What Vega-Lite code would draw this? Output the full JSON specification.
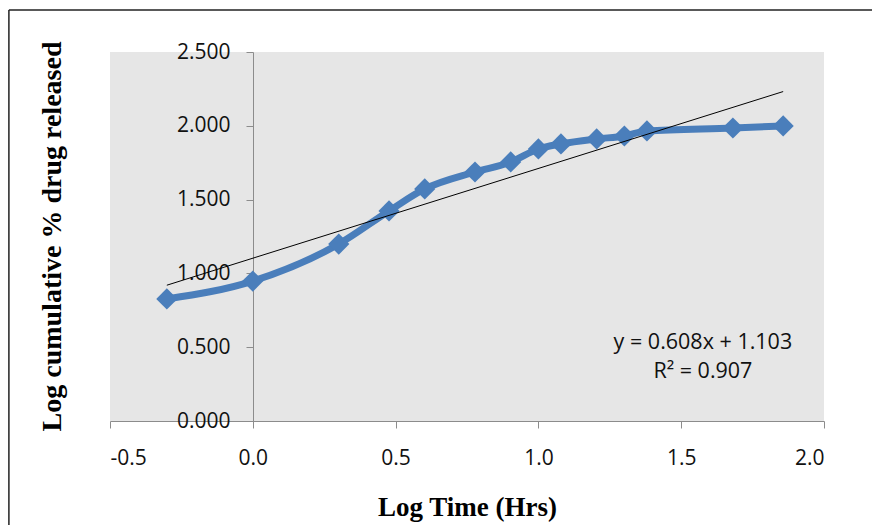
{
  "$schema": "https://vega.github.io/schema/vega-lite/v6.json",
  "width": 714,
  "height": 369,
  "autosize": "none",
  "padding": {"left": 110, "top": 52, "right": 48, "bottom": 104},
  "background": "white",
  "config": {
    "view": {"fill": "#e6e6e6", "stroke": null},
    "font": "Open Sans"
  },
  "datasets": {
    "release": [
      {"logt": -0.301, "logrel": 0.827},
      {"logt": 0.0, "logrel": 0.948},
      {"logt": 0.301, "logrel": 1.199},
      {"logt": 0.477, "logrel": 1.423},
      {"logt": 0.602, "logrel": 1.572},
      {"logt": 0.778, "logrel": 1.687},
      {"logt": 0.903, "logrel": 1.755},
      {"logt": 1.0, "logrel": 1.843},
      {"logt": 1.079, "logrel": 1.877},
      {"logt": 1.204, "logrel": 1.911},
      {"logt": 1.301, "logrel": 1.931},
      {"logt": 1.38, "logrel": 1.965},
      {"logt": 1.681, "logrel": 1.985},
      {"logt": 1.857, "logrel": 1.999}
    ],
    "trend": [
      {"logt": -0.301, "logrel": 0.92},
      {"logt": 1.857, "logrel": 2.232}
    ],
    "labels": [
      {"logt": 1.576, "logrel": 0.528, "text": "y = 0.608x + 1.103"},
      {"logt": 1.576, "logrel": 0.332, "text": "R² = 0.907"}
    ]
  },
  "layer": [
    {
      "data": {"name": "release"},
      "mark": {"type": "line", "color": "#4a7ebb", "strokeWidth": 7, "interpolate": "monotone"},
      "encoding": {
        "x": {
          "field": "logt", "type": "quantitative",
          "scale": {"domain": [-0.5, 2.0], "nice": false, "zero": false},
          "axis": {
            "title": "Log Time (Hrs)",
            "values": [-0.5, 0, 0.5, 1.0, 1.5, 2.0],
            "labelExpr": "replace(format(datum.value, '.1f'), '\u2212', '-')",
            "grid": false,
            "domainColor": "#8c8c8c",
            "tickColor": "#8c8c8c",
            "tickSize": 7,
            "labelFont": "Open Sans",
            "labelFontSize": 21,
            "labelColor": "#111111",
            "labelPadding": 19,
            "titleFont": "Liberation Serif",
            "titleFontWeight": "bold",
            "titleFontSize": 27,
            "titleColor": "#000000",
            "titlePadding": 26
          }
        },
        "y": {
          "field": "logrel", "type": "quantitative",
          "scale": {"domain": [0, 2.5], "nice": false},
          "axis": {
            "title": "Log cumulative % drug released",
            "values": [0, 0.5, 1.0, 1.5, 2.0, 2.5],
            "format": ".3f",
            "grid": false,
            "offset": -143,
            "domainColor": "#8c8c8c",
            "tickColor": "#8c8c8c",
            "tickSize": 7,
            "labelFont": "Open Sans",
            "labelFontSize": 21,
            "labelColor": "#111111",
            "labelPadding": 16,
            "titleFont": "Liberation Serif",
            "titleFontWeight": "bold",
            "titleFontSize": 28,
            "titleColor": "#000000",
            "titleAngle": -90,
            "titleAlign": "center",
            "titleBaseline": "middle",
            "titleX": -201,
            "titleY": 184
          }
        }
      }
    },
    {
      "data": {"name": "release"},
      "mark": {"type": "point", "shape": "diamond", "filled": true, "color": "#4a7ebb", "size": 450, "opacity": 1},
      "encoding": {
        "x": {"field": "logt", "type": "quantitative"},
        "y": {"field": "logrel", "type": "quantitative"}
      }
    },
    {
      "data": {"name": "trend"},
      "mark": {"type": "line", "color": "#000000", "strokeWidth": 1},
      "encoding": {
        "x": {"field": "logt", "type": "quantitative"},
        "y": {"field": "logrel", "type": "quantitative"}
      }
    },
    {
      "data": {"name": "labels"},
      "mark": {"type": "text", "font": "Open Sans", "fontSize": 21.5, "color": "#111111", "align": "center", "baseline": "middle"},
      "encoding": {
        "x": {"field": "logt", "type": "quantitative"},
        "y": {"field": "logrel", "type": "quantitative"},
        "text": {"field": "text"}
      }
    },
    {
      "data": {"values": [{}]},
      "mark": {"type": "rule", "color": "#222222", "strokeWidth": 1.5, "clip": false},
      "encoding": {
        "x": {"datum": -0.854},
        "x2": {"datum": 2.3},
        "y": {"datum": 2.785}
      }
    },
    {
      "data": {"values": [{}]},
      "mark": {"type": "rule", "color": "#222222", "strokeWidth": 1.5, "clip": false},
      "encoding": {
        "x": {"datum": -0.854},
        "y": {"datum": 2.785},
        "y2": {"datum": -0.75}
      }
    }
  ]
}
